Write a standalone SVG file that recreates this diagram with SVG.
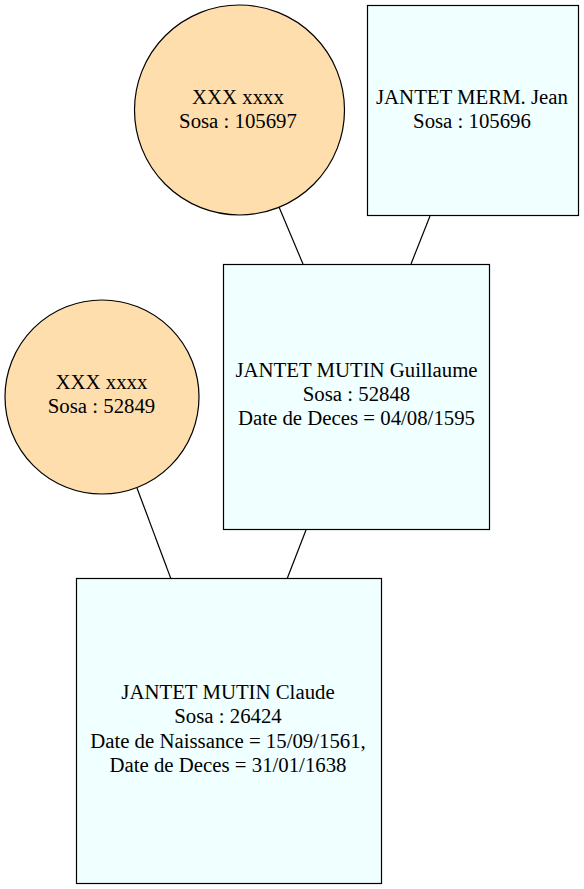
<svg xmlns="http://www.w3.org/2000/svg" width="584" height="889" viewBox="0 0 584 889">
<style>
.f{fill:#ffdead;stroke:#000;stroke-width:1.2}
.m{fill:#f0ffff;stroke:#000;stroke-width:1.2}
.e{stroke:#000;stroke-width:1.2;fill:none}
text{font-family:"Liberation Serif","Times New Roman",serif;font-size:20.8px;text-anchor:middle;fill:#000}
</style>
<rect width="584" height="889" fill="#fff"/>
<g id="connectors">
<line class="e" x1="279" y1="207" x2="303" y2="264"/>
<line class="e" x1="430" y1="216" x2="411" y2="264"/>
<line class="e" x1="137" y1="488" x2="171" y2="579"/>
<line class="e" x1="306" y1="530" x2="287" y2="579"/>
</g>
<g id="n105697">
<circle class="f" cx="239.5" cy="110" r="105"/>
<text x="238" y="104">XXX xxxx</text>
<text x="238" y="128">Sosa : 105697</text>
</g>
<g id="n105696">
<rect class="m" x="367.5" y="5.5" width="211" height="210"/>
<text x="472" y="104">JANTET MERM. Jean</text>
<text x="472" y="128">Sosa : 105696</text>
</g>
<g id="n52848">
<rect class="m" x="223.5" y="264.5" width="266" height="265"/>
<text x="356.5" y="377">JANTET MUTIN Guillaume</text>
<text x="356.5" y="401">Sosa : 52848</text>
<text x="356.5" y="425">Date de Deces = 04/08/1595</text>
</g>
<g id="n52849">
<circle class="f" cx="102" cy="397" r="97"/>
<text x="101.5" y="389">XXX xxxx</text>
<text x="101.5" y="413">Sosa : 52849</text>
</g>
<g id="n26424">
<rect class="m" x="76.5" y="578.5" width="305" height="305"/>
<text x="228" y="699">JANTET MUTIN Claude</text>
<text x="228" y="723">Sosa : 26424</text>
<text x="228" y="748">Date de Naissance = 15/09/1561,</text>
<text x="228" y="772">Date de Deces = 31/01/1638</text>
</g>
</svg>
